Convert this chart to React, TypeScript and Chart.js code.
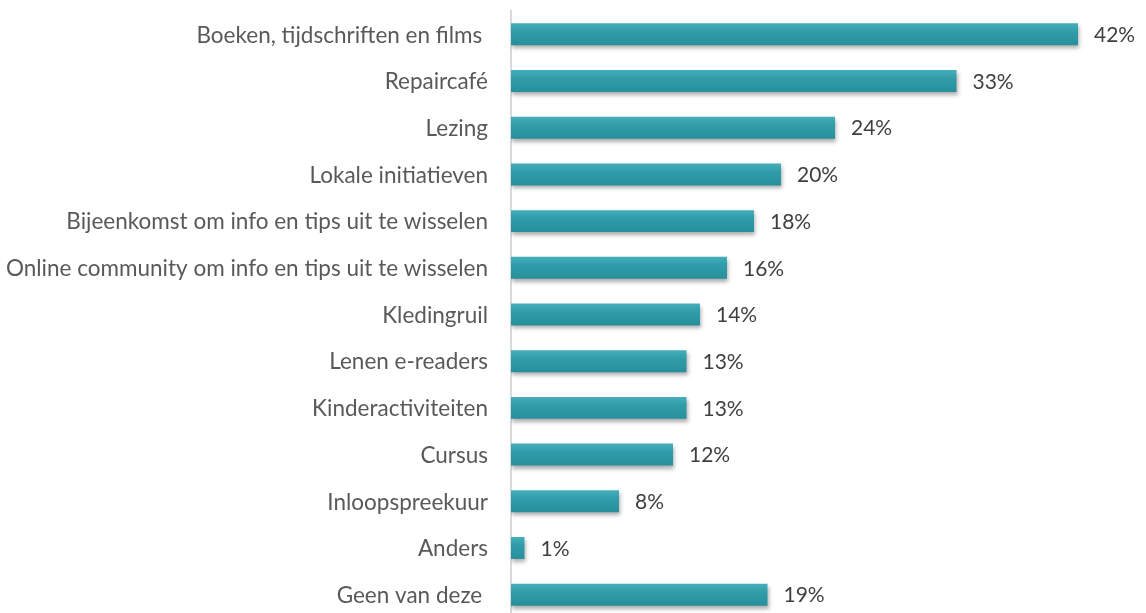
import React, { useEffect, useRef } from "react";
import { Chart, registerables } from "chart.js";

Chart.register(...registerables);

const categories = [
  "Boeken, tijdschriften en films ",
  "Repaircafé",
  "Lezing",
  "Lokale initiatieven",
  "Bijeenkomst om info en tips uit te wisselen",
  "Online community om info en tips uit te wisselen",
  "Kledingruil",
  "Lenen e-readers",
  "Kinderactiviteiten",
  "Cursus",
  "Inloopspreekuur",
  "Anders",
  "Geen van deze ",
];
const values = [42, 33, 24, 20, 18, 16, 14, 13, 13, 12, 8, 1, 19];
const valueLabels = ["42%", "33%", "24%", "20%", "18%", "16%", "14%", "13%", "13%", "12%", "8%", "1%", "19%"];

const FONT = "Lato, 'Open Sans', sans-serif";

const barStylePlugin = {
  id: "barStyle",
  beforeDatasetsDraw(chart: any) {
    const ctx = chart.ctx;
    const meta = chart.getDatasetMeta(0);
    meta.data.forEach((el: any) => {
      const top = el.y - el.height / 2;
      const bottom = el.y + el.height / 2;
      const g = ctx.createLinearGradient(0, top, 0, bottom);
      g.addColorStop(0, "#45aeba");
      g.addColorStop(0.4, "#309ca9");
      g.addColorStop(1, "#278f9c");
      el.options.backgroundColor = g;
    });
    ctx.save();
    ctx.shadowColor = "rgba(0,0,0,0.32)";
    ctx.shadowBlur = 4;
    ctx.shadowOffsetX = 1;
    ctx.shadowOffsetY = 3;
  },
  afterDatasetsDraw(chart: any) {
    const ctx = chart.ctx;
    ctx.restore();
    const meta = chart.getDatasetMeta(0);
    const yScale = chart.scales.y;
    ctx.save();
    ctx.textBaseline = "middle";
    ctx.font = `21px ${FONT}`;
    ctx.fillStyle = "#404040";
    ctx.textAlign = "left";
    meta.data.forEach((el: any, i: number) => {
      ctx.fillText(valueLabels[i], el.x + 16, el.y + 1);
    });
    ctx.font = `22.5px ${FONT}`;
    ctx.fillStyle = "#595959";
    ctx.textAlign = "right";
    categories.forEach((c, i) => {
      const y = yScale.getPixelForValue(i);
      ctx.fillText(c, yScale.right - 23, y + 1);
    });
    ctx.restore();
  },
};

export default function App() {
  const ref = useRef<HTMLCanvasElement | null>(null);
  useEffect(() => {
    if (!ref.current) return;
    const chart = new Chart(ref.current, {
      type: "bar",
      data: {
        labels: categories,
        datasets: [
          {
            data: values,
            backgroundColor: () => "#2e9aa7",
            borderWidth: 0,
            barPercentage: 0.47,
            categoryPercentage: 1,
          },
        ],
      },
      options: {
        indexAxis: "y",
        animation: false,
        responsive: true,
        maintainAspectRatio: false,
        layout: { padding: { top: 11, right: 14, bottom: 0, left: 0 } },
        plugins: { legend: { display: false }, tooltip: { enabled: false } },
        scales: {
          x: {
            min: 0,
            max: 46,
            display: false,
          },
          y: {
            grid: { display: false },
            border: { display: true, color: "#d9d9d9", width: 2 },
            ticks: { display: false },
            afterFit(scale: any) {
              scale.width = 511;
            },
          },
        },
      },
      plugins: [barStylePlugin],
    });
    return () => chart.destroy();
  }, []);
  return (
    <div style={{ position: "absolute", left: 0, top: 0, width: 1146, height: 613, overflow: "hidden" }}>
      <div style={{ position: "relative", width: 1146, height: 618 }}>
        <canvas ref={ref} />
      </div>
    </div>
  );
}
